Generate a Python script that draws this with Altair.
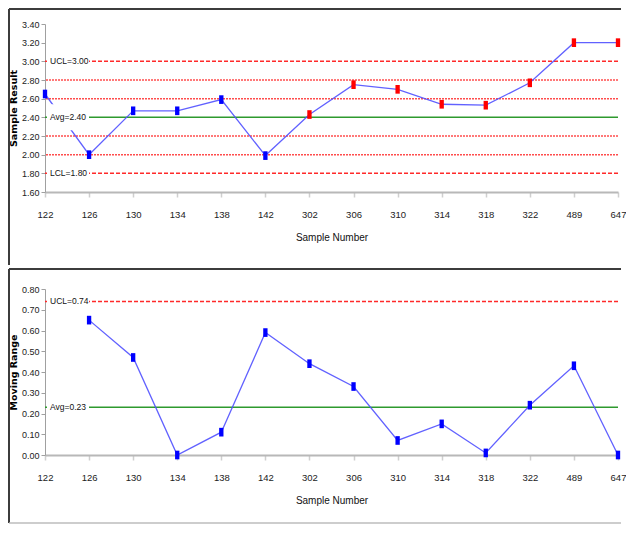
import altair as alt
import pandas as pd

# ---------------- data ----------------
categories = ["122", "126", "130", "134", "138", "142", "302", "306",
              "310", "314", "318", "322", "489", "647"]
sample_result = [2.65, 2.00, 2.47, 2.47, 2.59, 1.99, 2.43, 2.75,
                 2.70, 2.54, 2.53, 2.77, 3.20, 3.20]
signal = ["normal", "normal", "normal", "normal", "normal", "normal", "signal",
          "signal", "signal", "signal", "signal", "signal", "signal", "signal"]
moving_range = [None, 0.65, 0.47, 0.00, 0.11, 0.59, 0.44, 0.33,
                0.07, 0.15, 0.01, 0.24, 0.43, 0.00]

top_limit_values = [3.00, 2.40, 1.80]
top_limit_labels = ["UCL=3.00", "Avg=2.40", "LCL=1.80"]
top_limit_kind = ["limit", "center", "limit"]
top_zone_values = [2.80, 2.60, 2.20, 2.00]
top_ticks = [1.60, 1.80, 2.00, 2.20, 2.40, 2.60, 2.80, 3.00, 3.20, 3.40]

mr_limit_values = [0.74, 0.23]
mr_limit_labels = ["UCL=0.74", "Avg=0.23"]
mr_limit_kind = ["limit", "center"]
mr_zone_values = []
mr_ticks = [0.00, 0.10, 0.20, 0.30, 0.40, 0.50, 0.60, 0.70, 0.80]

# ---------------- styling ----------------
FONT = "Liberation Sans, Arial, sans-serif"
TITLE_FONT = "DejaVu Sans"
W = 573
LEFT = -37
LINE_BLUE = "#5050ff"
RED = "#ff2a2a"
GREEN = "#2e9a2e"


def panel(values, ytitle, domain, ticks, lim_vals, lim_labels, lim_kind,
          zone_vals, H, top_rule_y, bottom_y, color_values=None, bottom_rule=False):
    df = pd.DataFrame({"cat": categories, "val": values})
    if color_values is not None:
        df["status"] = color_values
    else:
        df["status"] = ["normal"] * len(categories)

    x_axis = alt.Axis(title="Sample Number", labelAngle=0, labelFont=FONT,
                      labelFontSize=9.5, labelColor="#222", titleFont=FONT,
                      titleFontSize=10, titleFontWeight="normal",
                      titleColor="#111", domainColor="#b8b8b8", domainWidth=2,
                      tickColor="#cfcfcf", tickWidth=1.5, tickSize=5,
                      labelPadding=12, titlePadding=14, grid=False,
                      labelOverlap=False)
    x_scale = alt.Scale(domain=categories, type="point", padding=0)
    y_axis = alt.Axis(title=ytitle, values=ticks, format=".2f", labelFont=FONT,
                      labelFontSize=9, labelColor="#222", titleFont=TITLE_FONT,
                      titleFontSize=9.5, titleFontWeight="bold", titleColor="#000",
                      domainColor="#a0a0a0", domainWidth=1, tickColor="#a0a0a0",
                      tickSize=4, labelPadding=2, titlePadding=3, grid=False,
                      labelOverlap=False, labelFlush=False)
    y_scale = alt.Scale(domain=domain, nice=False, zero=False)

    def Y(field):
        return alt.Y(field, type="quantitative", scale=y_scale, axis=y_axis)

    x = alt.X("cat:N", sort=categories, scale=x_scale, axis=x_axis)

    lim = pd.DataFrame({"val": lim_vals, "lab": lim_labels, "kind": lim_kind})
    lim_red = lim[lim["kind"] == "limit"]
    lim_green = lim[lim["kind"] == "center"]
    zones = pd.DataFrame({"val": zone_vals})
    one = pd.DataFrame({"a": [0]})

    layers = []
    if len(zones):
        layers.append(alt.Chart(zones).mark_rule(color="#ff4d4d", strokeWidth=1.5,
                                                 strokeDash=[2, 1]).encode(y=Y("val")))
    layers.append(alt.Chart(lim_red).mark_rule(color=RED, strokeWidth=1.5,
                                               strokeDash=[4, 2]).encode(y=Y("val")))
    layers.append(alt.Chart(lim_green).mark_rule(color=GREEN, strokeWidth=1.5).encode(
        y=Y("val")))
    layers.append(alt.Chart(df).mark_line(color=LINE_BLUE, strokeWidth=1.3, opacity=0.9).encode(
        x=x, y=Y("val")))
    # white label backgrounds
    layers.append(alt.Chart(lim).mark_rect(color="white", yOffset=-13, y2Offset=13).encode(
        x=alt.value(2), x2=alt.value(44), y=Y("val"), y2=alt.Y2("val")))
    layers.append(alt.Chart(lim).mark_text(align="left", baseline="middle", font=FONT,
                                           fontSize=8.5, color="#111").encode(
        x=alt.value(5), y=Y("val"), text="lab:N"))
    layers.append(alt.Chart(df).mark_point(
        shape="M-0.5,-1H0.5V1H-0.5Z", size=75, filled=True, opacity=1).encode(
        x=x, y=Y("val"),
        color=alt.Color("status:N", scale=alt.Scale(domain=["normal", "signal"],
                                                    range=["#0000ff", "#ff0000"]),
                        legend=None)))
    # panel borders
    layers.append(alt.Chart(one).mark_rule(color="#3c3c3c", strokeWidth=2).encode(
        x=alt.value(LEFT + 1), x2=alt.value(W + 3), y=alt.value(top_rule_y)))
    layers.append(alt.Chart(one).mark_rule(color="#3c3c3c", strokeWidth=2).encode(
        x=alt.value(LEFT + 1), y=alt.value(top_rule_y), y2=alt.value(bottom_y)))
    if bottom_rule:
        layers.append(alt.Chart(one).mark_rule(color="#bdbdbd", strokeWidth=1.5).encode(
            x=alt.value(LEFT + 1), x2=alt.value(W + 3), y=alt.value(bottom_y)))

    return alt.layer(*layers).properties(width=W, height=H)


top = panel(sample_result, "Sample Result", [1.6, 3.4], top_ticks,
            top_limit_values, top_limit_labels, top_limit_kind, top_zone_values,
            168, -15, 241, color_values=signal)
bottom = panel(moving_range, "Moving Range", [0.0, 0.8], mr_ticks,
               mr_limit_values, mr_limit_labels, mr_limit_kind, mr_zone_values,
               166, -20, 234, bottom_rule=True)

chart = alt.vconcat(top, bottom, spacing=2).properties(
    padding=0, background="white"
).configure_view(stroke=None)

chart.save("out.html", embed_options={"renderer": "svg", "actions": False})
